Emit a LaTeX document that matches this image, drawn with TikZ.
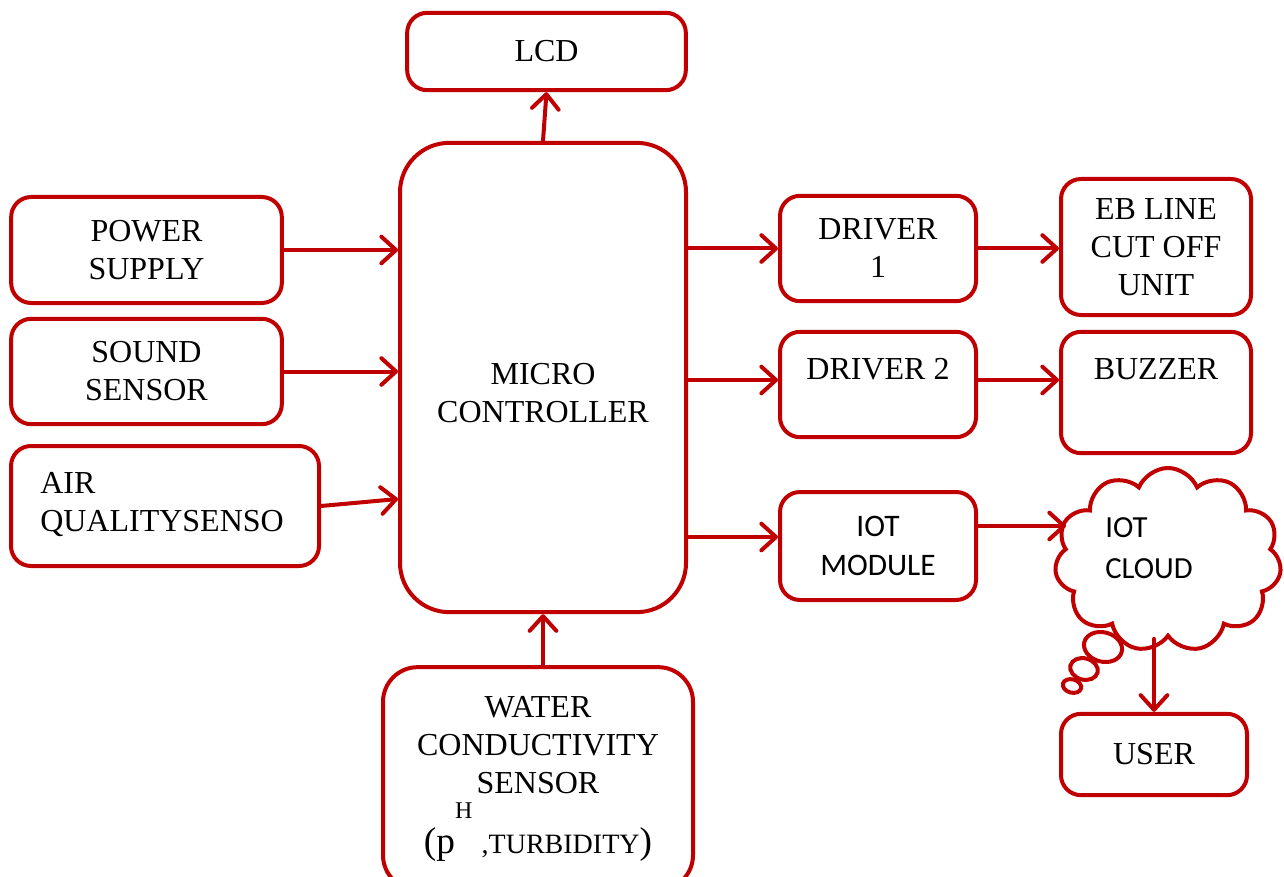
\documentclass[tikz,border=0pt]{standalone}
\usepackage{fontspec}
\setmainfont{Liberation Serif}
\newfontfamily\calibri{Carlito}
\usetikzlibrary{arrows.meta,shapes.symbols,shapes.geometric}
\definecolor{boxred}{RGB}{192,0,0}

\tikzset{
  blk/.style={draw=boxred, line width=3pt, rounded corners=15pt, inner sep=0pt, align=center, font=\fontsize{24}{28.5}\selectfont},
  txt/.style={inner sep=0pt, align=center, font=\fontsize{24}{28.5}\selectfont},
  arr/.style={draw=boxred, line width=3pt, line cap=round, -{Straight Barb[length=11pt,width=20pt,line cap=round,line join=round]}},
  bubble/.style={ellipse, draw=boxred, line width=3pt, inner sep=0pt},
}

\begin{document}
\begin{tikzpicture}[x=0.75pt,y=0.75pt,yscale=-1,xscale=1]
\clip (0,0) rectangle (1284,877);

% blocks
\node[blk, minimum width=209pt, minimum height=58pt] (lcd) at (546.5,51.5) {LCD};
\node[blk, rounded corners=37pt, minimum width=214.5pt, minimum height=352pt] (mcu) at (543,377.5) {};
\node[txt] (mcut) at (543,393) {MICRO\\CONTROLLER};
\node[blk, minimum width=203pt, minimum height=79.5pt] (power) at (146.5,250) {POWER\\SUPPLY};
\node[blk, minimum width=203pt, minimum height=79pt] (sound) at (146.5,371.5) {SOUND\\SENSOR};
\node[blk, minimum width=231pt, minimum height=90pt] (air) at (165,506) {};
\begin{scope}
  \clip (air.north west) rectangle (319,546.5);
  \node[txt, align=left, anchor=north west] (airt) at (40,472.5) {AIR\\QUALITYSENSO\\R(CO\textsubscript{2})};
\end{scope}
\node[blk, rounded corners=26pt, minimum width=232.5pt, minimum height=167pt] (water) at (538,778.5) {};
\node[txt] (watert) at (538,745) {WATER\\CONDUCTIVITY\\SENSOR};
\node[inner sep=0pt, anchor=base] (waterph) at (538,853) {{\fontsize{28}{28}\selectfont(p}\raisebox{26pt}{\fontsize{18}{18}\selectfont H}\hspace{7pt}{\fontsize{21}{21}\selectfont,TURBIDITY}{\fontsize{28}{28}\selectfont)}};

\node[blk, minimum width=147pt, minimum height=79pt] (drv1) at (878,248.5) {DRIVER\\1};
\node[blk, minimum width=147pt, minimum height=79pt] (drv2) at (878,384.5) {};
\node[txt] (drv2t) at (878,369) {DRIVER 2};
\node[blk, minimum width=147pt, minimum height=81pt, font=\calibri\fontsize{23.5}{29}\selectfont] (iotm) at (878,546) {IOT\\MODULE};

\node[blk, minimum width=142.5pt, minimum height=102pt] (eb) at (1156,247) {EB LINE\\CUT OFF\\UNIT};
\node[blk, minimum width=142.5pt, minimum height=91pt] (buzz) at (1156,392.5) {};
\node[txt] (buzzt) at (1156,369) {BUZZER};
\node[blk, minimum width=139.5pt, minimum height=61pt] (user) at (1154,754.5) {USER};

% cloud
\node[cloud, draw=boxred, line width=3pt, cloud puffs=11, cloud puff arc=135, minimum width=170pt, minimum height=138pt] (cloud) at (1168,560) {};
\node[txt, align=left, font=\calibri\fontsize{23}{31}\selectfont] (cloudt) at (1149,548) {IOT\\CLOUD};
\node[bubble, minimum width=29pt, minimum height=22pt, rotate=-15] (bub1) at (1103,647) {};
\node[bubble, minimum width=21pt, minimum height=16pt, rotate=-15] (bub2) at (1084,669) {};
\node[bubble, minimum width=14pt, minimum height=10pt, rotate=-15] (bub3) at (1072,686) {};

% connectors
\coordinate (cin) at (1066,526);
\draw[arr] (mcu.north) -- (lcd.south);
\draw[arr] (power.east) -- (power.east -| mcu.west);
\draw[arr] (sound.east) -- (sound.east -| mcu.west);
\draw[arr] (air.east) -- (mcu.west |- {(0,499)});
\draw[arr] (mcu.south |- water.north) -- (mcu.south);
\draw[arr] (mcu.east |- drv1.west) -- (drv1.west);
\draw[arr] (mcu.east |- {(0,380)}) -- (drv2.west |- {(0,380)});
\draw[arr] (mcu.east |- {(0,537)}) -- (iotm.west |- {(0,537)});
\draw[arr] (drv1.east) -- (drv1.east -| eb.west);
\draw[arr] (drv2.east |- {(0,380)}) -- (buzz.west |- {(0,380)});
\draw[arr] (iotm.east |- cin) -- (cin);
\draw[arr] (user.north |- cloud.south) -- (user.north);

\end{tikzpicture}
\end{document}
